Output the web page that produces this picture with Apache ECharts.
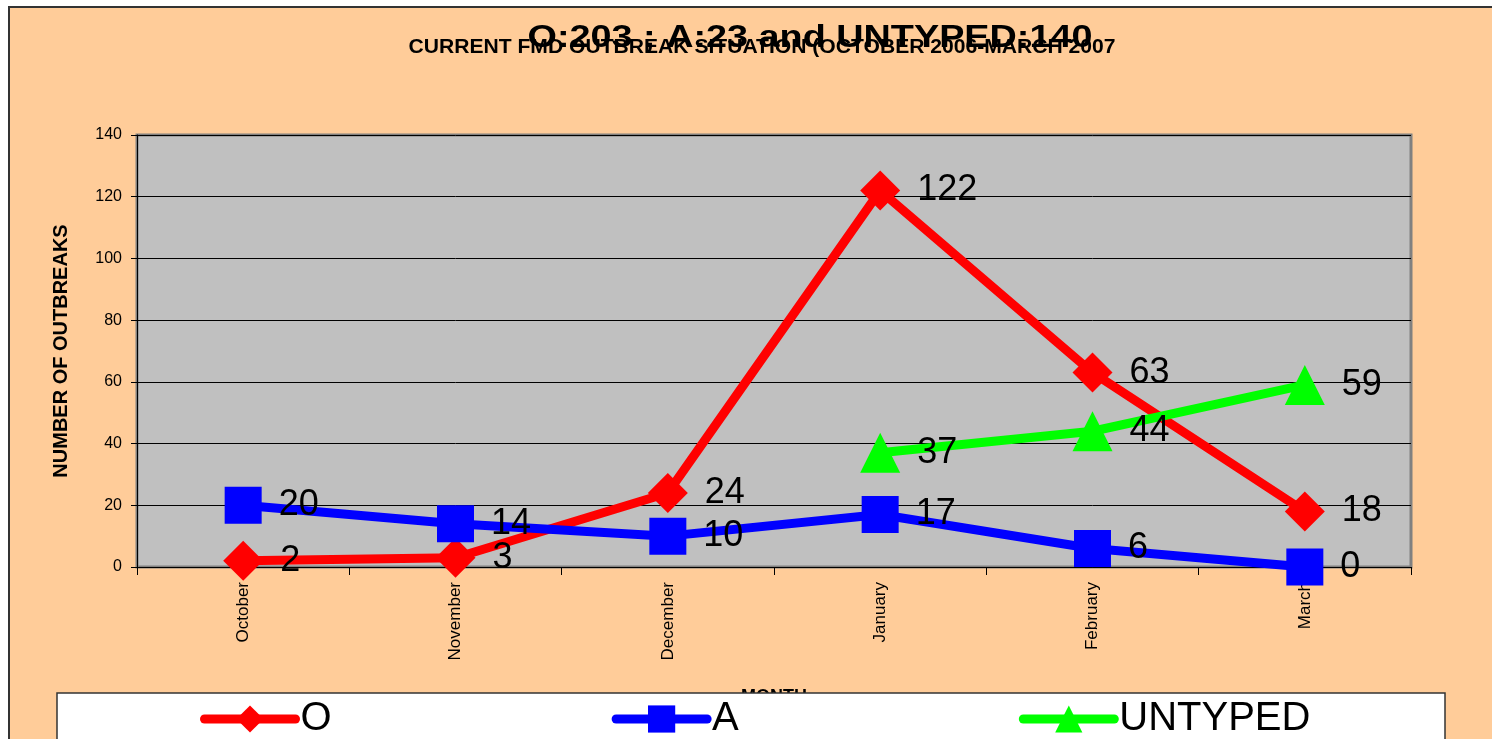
<!DOCTYPE html>
<html>
<head>
<meta charset="utf-8">
<script src="https://cdn.jsdelivr.net/npm/echarts@6/dist/echarts.min.js"></script>
<style>
  html, body { margin: 0; padding: 0; background: #fff; overflow: hidden; }
  #frame {
    position: absolute; left: 8px; top: 6px;
    width: 1484px; height: 733px;
    background: #ffcc99;
    border-left: 2px solid #333;
    border-top: 2px solid #333;
  }
  #chart { width: 1484px; height: 733px; }
</style>
</head>
<body>
<div id="frame"><div id="chart"></div></div>
<script>
const months = ['October', 'November', 'December', 'January', 'February', 'March']
const oValues = [2, 3, 24, 122, 63, 18]
const aValues = [20, 14, 10, 17, 6, 0]
const untypedValues = [null, null, null, 37, 44, 59]

const mainTitle = 'O:203 ; A:23 and UNTYPED:140'
const subTitle = 'CURRENT FMD OUTBREAK SITUATION (OCTOBER 2006-MARCH 2007'

const baseFont = '"Liberation Sans", Arial, sans-serif'

// the titles in the original are squeezed / stretched, so fit them to their width
const measure = (text, font) => {
  const ctx = document.createElement('canvas').getContext('2d')
  ctx.font = font
  return ctx.measureText(text).width
}
const mainFont = 'bold 32px ' + baseFont
const subFont = 'bold 20px ' + baseFont
const mainScale = 565 / measure(mainTitle, mainFont)
const subScale = 707 / measure(subTitle, subFont)

const chart = echarts.init(document.getElementById('chart'))

const pointLabel = {
  show: true,
  position: 'right',
  distance: 17,
  color: '#000',
  fontSize: 36,
  fontFamily: baseFont
}

chart.setOption({
  animation: false,
  textStyle: { fontFamily: baseFont },
  graphic: [
    {
      type: 'text',
      x: 752, y: 39,
      scaleX: subScale,
      style: {
        text: subTitle,
        fill: '#000',
        font: subFont,
        textAlign: 'center',
        textVerticalAlign: 'middle'
      }
    },
    {
      type: 'text',
      x: 800, y: 30,
      scaleX: mainScale,
      style: {
        text: mainTitle,
        fill: '#000',
        font: mainFont,
        textAlign: 'center',
        textVerticalAlign: 'middle'
      }
    },
    {
      type: 'rect',
      z: 10,
      shape: { x: 47, y: 685, width: 1388, height: 80 },
      style: { fill: '#fff', stroke: '#333', lineWidth: 1.5 }
    }
  ],
  legend: {
    z: 20,
    left: 190,
    top: 691,
    padding: 0,
    itemWidth: 91,
    itemHeight: 34,
    itemGap: 280,
    lineStyle: { width: 9, cap: 'round' },
    textStyle: { fontSize: 40, color: '#000', fontFamily: baseFont },
    data: ['O', 'A', 'UNTYPED']
  },
  grid: {
    show: true,
    left: 127,
    top: 127,
    width: 1274,
    height: 432,
    backgroundColor: '#c0c0c0',
    borderColor: '#808080',
    borderWidth: 3
  },
  xAxis: {
    type: 'category',
    data: months,
    boundaryGap: true,
    name: 'MONTH',
    nameLocation: 'middle',
    nameGap: 121,
    nameTextStyle: { fontSize: 18, fontWeight: 'bold', color: '#000' },
    axisLine: { lineStyle: { color: '#000', width: 1 } },
    axisTick: { show: true, inside: false, length: 8, alignWithLabel: false, lineStyle: { color: '#000' } },
    axisLabel: { rotate: 90, margin: 15, fontSize: 17, color: '#000' },
    splitLine: { show: false }
  },
  yAxis: {
    type: 'value',
    min: 0,
    max: 140,
    interval: 20,
    name: 'NUMBER OF OUTBREAKS',
    nameLocation: 'middle',
    nameRotate: 90,
    nameGap: 66,
    nameTextStyle: { fontSize: 20, fontWeight: 'bold', color: '#000' },
    axisLine: { show: true, lineStyle: { color: '#000', width: 1 } },
    axisTick: { show: true, inside: false, length: 6, lineStyle: { color: '#000' } },
    axisLabel: { margin: 15, fontSize: 16, color: '#000' },
    splitLine: { show: true, lineStyle: { color: '#000', width: 1 } }
  },
  series: [
    {
      name: 'O',
      type: 'line',
      data: oValues,
      symbol: 'diamond',
      symbolSize: 40,
      lineStyle: { color: '#ff0000', width: 9 },
      itemStyle: { color: '#ff0000' },
      label: pointLabel
    },
    {
      name: 'A',
      type: 'line',
      data: aValues,
      symbol: 'rect',
      symbolSize: 37,
      lineStyle: { color: '#0000ff', width: 9 },
      itemStyle: { color: '#0000ff' },
      label: pointLabel
    },
    {
      name: 'UNTYPED',
      type: 'line',
      data: untypedValues,
      symbol: 'triangle',
      symbolSize: 40,
      lineStyle: { color: '#00ff00', width: 9 },
      itemStyle: { color: '#00ff00' },
      label: pointLabel
    }
  ]
})
</script>
</body>
</html>
